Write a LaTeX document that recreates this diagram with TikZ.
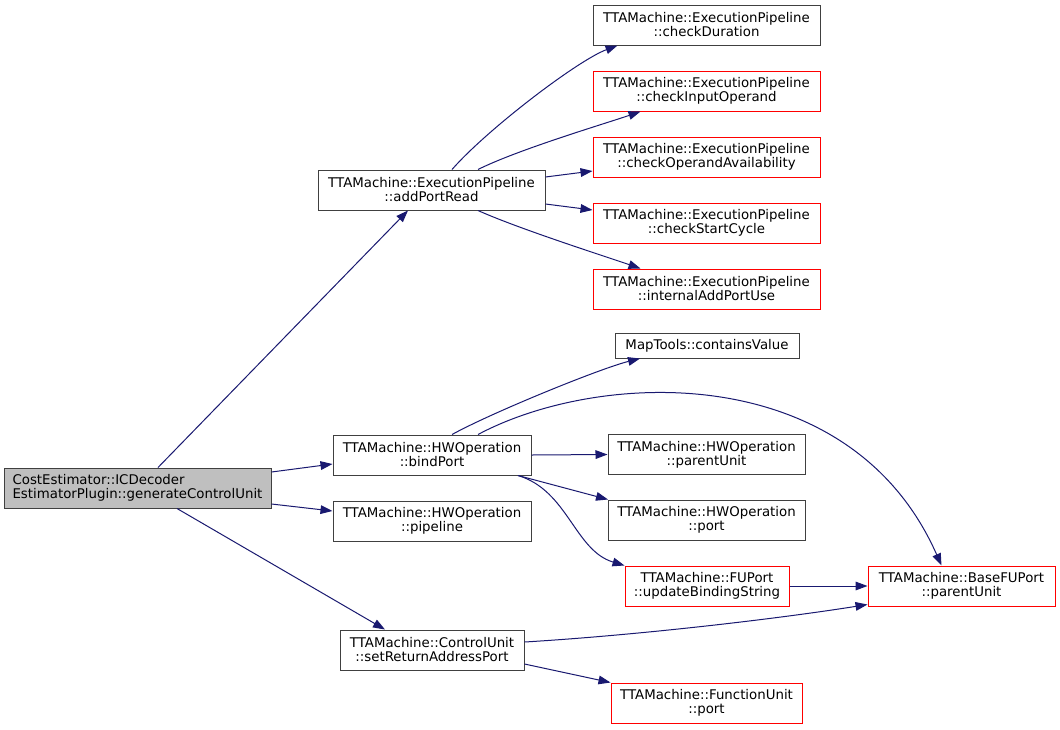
\documentclass[tikz,border=0pt]{standalone}
\usepackage{fontspec}
\setmainfont{DejaVu Sans}
\usetikzlibrary{arrows.meta,calc}
\definecolor{edgeBlue}{HTML}{191970}
\definecolor{fnDraw}{HTML}{404040}
\definecolor{fnRed}{HTML}{FF0000}
\definecolor{rootFill}{HTML}{BFBFBF}
\tikzset{
  font=\fontsize{10}{10.5}\selectfont,
  fn/.style    ={draw=fnDraw, align=center, inner sep=2pt, line width=0.75pt, minimum height=30pt},
  fnred/.style ={fn, draw=fnRed},
  root/.style  ={fn, fill=rootFill, align=left},
  call/.style  ={-{Triangle[length=9pt,width=6.5pt]}, draw=edgeBlue, line width=0.75pt},
}

\begin{document}
\begin{tikzpicture}[x=0.75pt, y=-0.75pt]
  \fill[white] (0,0) rectangle (1060,729);
  \useasboundingbox (0,0) rectangle (1060,729);

  % caller on the left
  \node[root, minimum width=200.25pt] (gen) at (137.5,488) {CostEstimator::ICDecoder\\EstimatorPlugin::generateControlUnit};

  % first level callees
  \node[fn, minimum width=170.25pt] (addread) at (431.5,190) {TTAMachine::ExecutionPipeline\\::addPortRead};
  \node[fn, minimum width=148.5pt]  (bindport) at (432,455) {TTAMachine::HWOperation\\::bindPort};
  \node[fn, minimum width=148.5pt]  (pipeline) at (432,521) {TTAMachine::HWOperation\\::pipeline};
  \node[fn, minimum width=138pt]    (setret) at (432,650) {TTAMachine::ControlUnit\\::setReturnAddressPort};

  % callees of addPortRead
  \node[fn,    minimum width=170.25pt] (chkdur)   at (706.5,25)  {TTAMachine::ExecutionPipeline\\::checkDuration};
  \node[fnred, minimum width=170.25pt] (chkin)    at (706.5,91)  {TTAMachine::ExecutionPipeline\\::checkInputOperand};
  \node[fnred, minimum width=170.25pt] (chkavail) at (706.5,157) {TTAMachine::ExecutionPipeline\\::checkOperandAvailability};
  \node[fnred, minimum width=170.25pt] (chkstart) at (706.5,223) {TTAMachine::ExecutionPipeline\\::checkStartCycle};
  \node[fnred, minimum width=170.25pt] (intadd)   at (706.5,289) {TTAMachine::ExecutionPipeline\\::internalAddPortUse};

  % callees of bindPort and setReturnAddressPort
  \node[fn, minimum width=138pt, minimum height=18.75pt] (contains) at (707,345.5) {MapTools::containsValue};
  \node[fn,    minimum width=147.75pt] (hwparent) at (706.5,454.5) {TTAMachine::HWOperation\\::parentUnit};
  \node[fn,    minimum width=147.75pt] (hwport)   at (706.5,520)   {TTAMachine::HWOperation\\::port};
  \node[fnred, minimum width=123pt]    (updbind)  at (707,586)     {TTAMachine::FUPort\\::updateBindingString};
  \node[fnred, minimum width=143.25pt] (funcport) at (706.5,703)   {TTAMachine::FunctionUnit\\::port};
  \node[fnred, minimum width=140.25pt] (basefu)   at (961.5,586)   {TTAMachine::BaseFUPort\\::parentUnit};

  % edges from the caller
  \draw[call] ($(gen.north)+(20.5,0)$) -- ($(addread.south)+(-23.5,0)$);
  \draw[call] ($(gen.east)+(0,-16)$) -- ($(bindport.west)+(0,9)$);
  \draw[call] ($(gen.east)+(0,16)$) -- ($(pipeline.west)+(0,-10)$);
  \draw[call] ($(gen.south)+(39.5,0)$) -- ($(setret.north)+(-47,0)$);

  % edges from addPortRead
  \draw[call] ($(addread.north)+(20.5,0)$) .. controls +(35,-40) and +(-40,15) .. ($(chkdur.south)+(-89,0)$);
  \draw[call] ($(addread.north)+(46.5,0)$) .. controls +(40,-20) and +(-35,12) .. ($(chkin.south)+(-66,0)$);
  \draw[call] ($(addread.east)+(0,-13)$) -- ($(chkavail.west)+(0,14)$);
  \draw[call] ($(addread.east)+(0,14)$) -- ($(chkstart.west)+(0,-13)$);
  \draw[call] ($(addread.south)+(46.5,0)$) .. controls +(40,18) and +(-35,-12) .. ($(intadd.north)+(-66,0)$);

  % edges from bindPort
  \draw[call] ($(bindport.north)+(20,0)$) .. controls +(40,-22) and +(-40,10) .. ($(contains.south)+(-67,0)$);
  \draw[call] ($(bindport.north)+(46,0)$) .. controls +(122,-65) and +(-91,-206) .. ($(basefu.north)+(-20,0)$);
  \draw[call] (bindport.east) -- (hwparent.west);
  \draw[call] ($(bindport.south)+(86,0)$) -- ($(hwport.north)+(-98.5,0)$);
  \draw[call] ($(bindport.south)+(86,0)$) .. controls +(50,15) and +(-50,-15) .. (updbind.north west);
  \draw[call] (updbind.east) -- (basefu.west);

  % edges from setReturnAddressPort
  \draw[call] ($(setret.east)+(0,-8)$) .. controls +(116,-7) and +(-88,14) .. ($(basefu.south west)+(0,-2)$);
  \draw[call] ($(setret.east)+(0,14)$) -- (funcport.north west);
\end{tikzpicture}
\end{document}
